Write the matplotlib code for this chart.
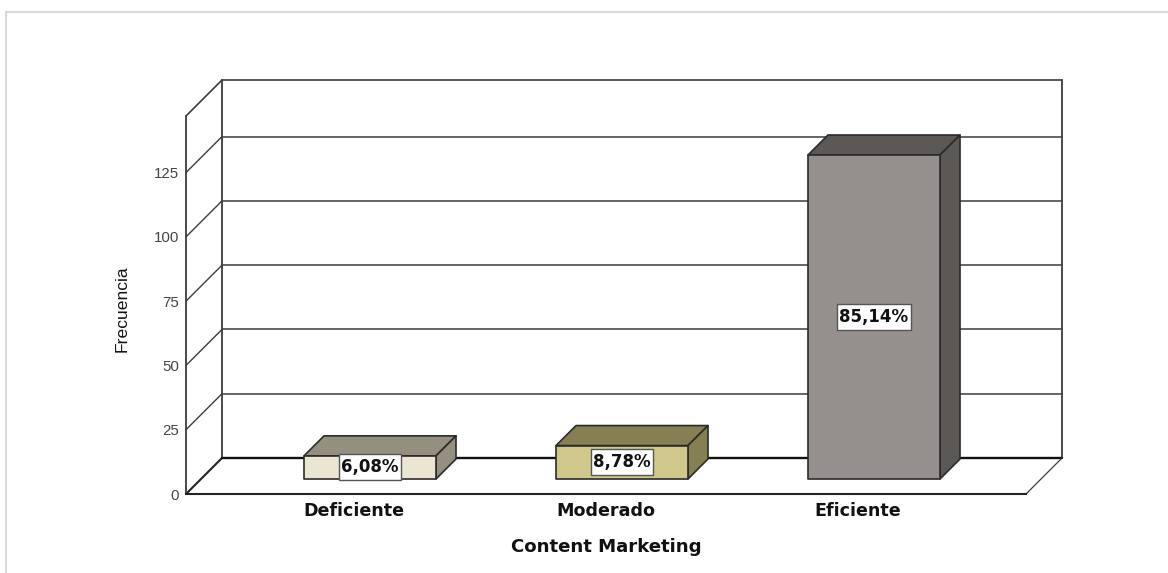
import matplotlib
matplotlib.use("Agg")
import matplotlib.pyplot as plt
from matplotlib.patches import Polygon, Rectangle
from matplotlib.lines import Line2D

categories = ["Deficiente", "Moderado", "Eficiente"]
values = [9, 13, 126]
percent_labels = ["6,08%", "8,78%", "85,14%"]
y_ticks = [0, 25, 50, 75, 100, 125]
x_title = "Content Marketing"
y_title = "Frecuencia"
front_colors = ["#ebe6d2", "#cfc88a", "#958f8d"]
side_colors = ["#948f7e", "#857f53", "#5b5856"]

W, H = 1168, 573
plt.rcParams["font.family"] = ["Liberation Sans", "DejaVu Sans"]
fig = plt.figure(figsize=(W / 100, H / 100), dpi=100, facecolor="white")
# Plot box in pixels
L, R, B, T = 186, 1026, 494, 116
ax = fig.add_axes([L / W, 1 - B / H, (R - L) / W, (B - T) / H])
ymax = 147
ppx = 252.0                      # px per category
ppy = (B - T) / ymax             # px per value
ax.set_ylim(0, ymax)
ax.set_xlim(1 - (R - L) / 2 / ppx, 1 + (R - L) / 2 / ppx)
ax.patch.set_visible(False)
wall_dx, wall_dy = 36 / ppx, 36 / ppy
bar_off_x, bar_off_y = 16 / ppx, 15 / ppy
bar_dx, bar_dy = 20 / ppx, 20 / ppy
bar_w = 132 / ppx
x0, x1 = ax.get_xlim()
wall = "#3c3c3c"

for s in ("top", "right"):
    ax.spines[s].set_visible(False)
ax.spines["left"].set_color(wall)
ax.spines["left"].set_linewidth(1.3)
ax.spines["bottom"].set_color("#222222")
ax.spines["bottom"].set_linewidth(1.5)

def ln(xs, ys, lw=1.0, c=wall, z=1):
    ax.plot(xs, ys, color=c, lw=lw, zorder=z, clip_on=False, solid_capstyle="round")

# Back wall
for v in y_ticks[1:]:
    ln([x0, x0 + wall_dx], [v, v + wall_dy])
    ln([x0 + wall_dx, x1 + wall_dx], [v + wall_dy, v + wall_dy], lw=1.1)
ln([x0, x0 + wall_dx], [0, wall_dy], lw=1.5, c="#222222")
ln([x0, x0 + wall_dx], [ymax, ymax + wall_dy], lw=1.2)
ln([x0 + wall_dx, x1 + wall_dx], [ymax + wall_dy] * 2, lw=1.2)
ln([x0 + wall_dx] * 2, [wall_dy, ymax + wall_dy], lw=1.3)
ln([x1 + wall_dx] * 2, [wall_dy, ymax + wall_dy], lw=1.3)
ln([x0 + wall_dx, x1 + wall_dx], [wall_dy, wall_dy], lw=1.7, c="#111111")
ln([x1, x1 + wall_dx], [0, wall_dy], lw=0.9)

# Bars
edge = "#2b2b2b"
labels = []
for i, v in enumerate(values):
    l = i - bar_w / 2 + bar_off_x
    r = i + bar_w / 2 + bar_off_x
    b = bar_off_y
    t = b + v
    ax.add_patch(Polygon([(l, t), (r, t), (r + bar_dx, t + bar_dy), (l + bar_dx, t + bar_dy)],
                         fc=side_colors[i], ec=edge, lw=1.2, zorder=3, clip_on=False, joinstyle="round"))
    ax.add_patch(Polygon([(r, b), (r + bar_dx, b + bar_dy), (r + bar_dx, t + bar_dy), (r, t)],
                         fc=side_colors[i], ec=edge, lw=1.2, zorder=3, clip_on=False, joinstyle="round"))
    ax.add_patch(Polygon([(l, b), (r, b), (r, t), (l, t)],
                         fc=front_colors[i], ec=edge, lw=1.2, zorder=4, clip_on=False, joinstyle="round"))
    labels.append(ax.text(i + bar_off_x, b + v / 2, percent_labels[i], ha="center", va="center",
                          fontsize=12, fontweight="bold", family=["DejaVu Sans"], color="#111111",
                          zorder=6, clip_on=False))

# White label boxes sized around the measured text
fig.canvas.draw()
rend = fig.canvas.get_renderer()
for txt, i, v in zip(labels, range(3), values):
    ext = txt.get_window_extent(rend)
    w_units = (ext.width + 4) / ppx
    h_units = 26 / ppy
    ax.add_patch(Rectangle((i + bar_off_x - w_units / 2, bar_off_y + v / 2 - h_units / 2), w_units, h_units,
                           fc="white", ec="#555555", lw=1.0, zorder=5, clip_on=False))

ax.set_yticks(y_ticks)
ax.set_yticklabels([str(v) for v in y_ticks], fontsize=10.8, color="#444444")
ax.tick_params(axis="y", length=0, pad=5)
ax.set_xticks(range(len(categories)))
ax.set_xticklabels(categories, fontsize=12.6, fontweight="bold", family=["DejaVu Sans"], color="#111111")
ax.tick_params(axis="x", length=0, pad=6)

ax.set_xlabel(x_title, fontsize=13.1, fontweight="bold", family=["DejaVu Sans"], color="#111111")
ax.xaxis.set_label_coords((606 - L) / (R - L), -(547 - B) / (B - T), transform=ax.transAxes)
ax.xaxis.label.set_va("center")
ax.set_ylabel(y_title, fontsize=12.6, color="#111111")
ax.yaxis.set_label_coords((122 - L) / (R - L), (B - 309) / (B - T), transform=ax.transAxes)
ax.yaxis.label.set_va("center")

# Outer frame
frame = "#d9d9d9"
fig.add_artist(Line2D([6 / W, 6 / W], [0, 1 - 12 / H], color=frame, lw=1.5))
fig.add_artist(Line2D([6 / W, 1], [1 - 12 / H, 1 - 12 / H], color=frame, lw=1.5))

fig.savefig("out.png", dpi=100)
